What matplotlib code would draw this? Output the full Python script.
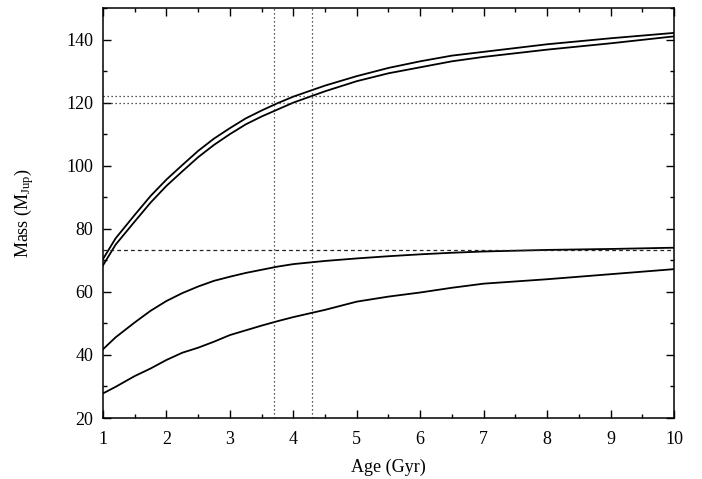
import matplotlib
matplotlib.use('Agg')
import matplotlib.pyplot as plt
from matplotlib.ticker import MultipleLocator

plt.rcParams['font.family'] = ['Liberation Serif', 'DejaVu Serif']
plt.rcParams['mathtext.fontset'] = 'custom'
plt.rcParams['mathtext.rm'] = 'Liberation Serif'
plt.rcParams['mathtext.it'] = 'Liberation Serif:italic'

# ages (Gyr)
age = [1.0, 1.2, 1.5, 1.75, 2.0, 2.25, 2.5, 2.75, 3.0, 3.25, 3.5, 3.75,
       4.0, 4.5, 5.0, 5.5, 6.0, 6.5, 7.0, 8.0, 9.0, 10.0]

# masses (M_Jup)
upper_a = [70.4, 77.0, 84.4, 90.4, 95.6, 100.2, 104.7, 108.6, 111.9, 115.0, 117.5, 119.8,
           121.9, 125.4, 128.4, 131.0, 133.1, 134.9, 136.1, 138.5, 140.4, 142.1]
upper_b = [68.4, 75.0, 82.3, 88.3, 93.6, 98.2, 102.7, 106.6, 110.0, 113.1, 115.6, 117.8,
           120.0, 123.6, 126.8, 129.3, 131.2, 133.1, 134.5, 136.8, 138.8, 141.0]
middle = [41.8, 45.6, 50.3, 54.0, 57.1, 59.6, 61.7, 63.5, 64.8, 66.0, 67.0, 68.0,
          68.8, 69.8, 70.6, 71.3, 71.9, 72.4, 72.8, 73.3, 73.6, 74.0]
lower = [27.8, 29.9, 33.3, 35.7, 38.4, 40.7, 42.3, 44.2, 46.3, 47.8, 49.3, 50.7,
         52.0, 54.3, 56.9, 58.5, 59.8, 61.3, 62.6, 64.0, 65.6, 67.2]

age_lines = [3.7, 4.3]
mass_lines = [120, 122]
hbl = 73.3

fig = plt.figure(figsize=(7.02, 4.79), dpi=100)
ax = fig.add_axes([0.1467, 0.1273, 0.8134, 0.856])

for m in (upper_a, upper_b, middle, lower):
    ax.plot(age, m, color='black', lw=1.3)

for a in age_lines:
    ax.axvline(a, color='#222222', lw=0.9, ls=(0, (1, 2.2)))
for m in mass_lines:
    ax.axhline(m, color='#222222', lw=0.9, ls=(0, (1, 2.2)))
ax.axhline(hbl, color='#222222', lw=0.9, ls=(0, (3, 2.5)))

ax.set_xlim(1, 10)
ax.set_ylim(20, 150)
ax.xaxis.set_major_locator(MultipleLocator(1))
ax.xaxis.set_minor_locator(MultipleLocator(0.5))
ax.yaxis.set_major_locator(MultipleLocator(20))
ax.yaxis.set_minor_locator(MultipleLocator(10))
ax.set_yticks([20, 40, 60, 80, 100, 120, 140])
ax.tick_params(which='both', direction='in', top=True, right=True, labelsize=13, width=1)
ax.tick_params(which='major', length=6)
ax.tick_params(axis='x', which='major', pad=9)
ax.tick_params(axis='y', which='major', pad=7)
ax.tick_params(which='minor', length=3)
for s in ax.spines.values():
    s.set_linewidth(1.1)

ax.set_xlabel('Age (Gyr)', fontsize=13, labelpad=8)
ax.set_ylabel(r'Mass (M$_\mathrm{Jup}$)', fontsize=13, labelpad=22)

fig.savefig('out.png', dpi=100)
